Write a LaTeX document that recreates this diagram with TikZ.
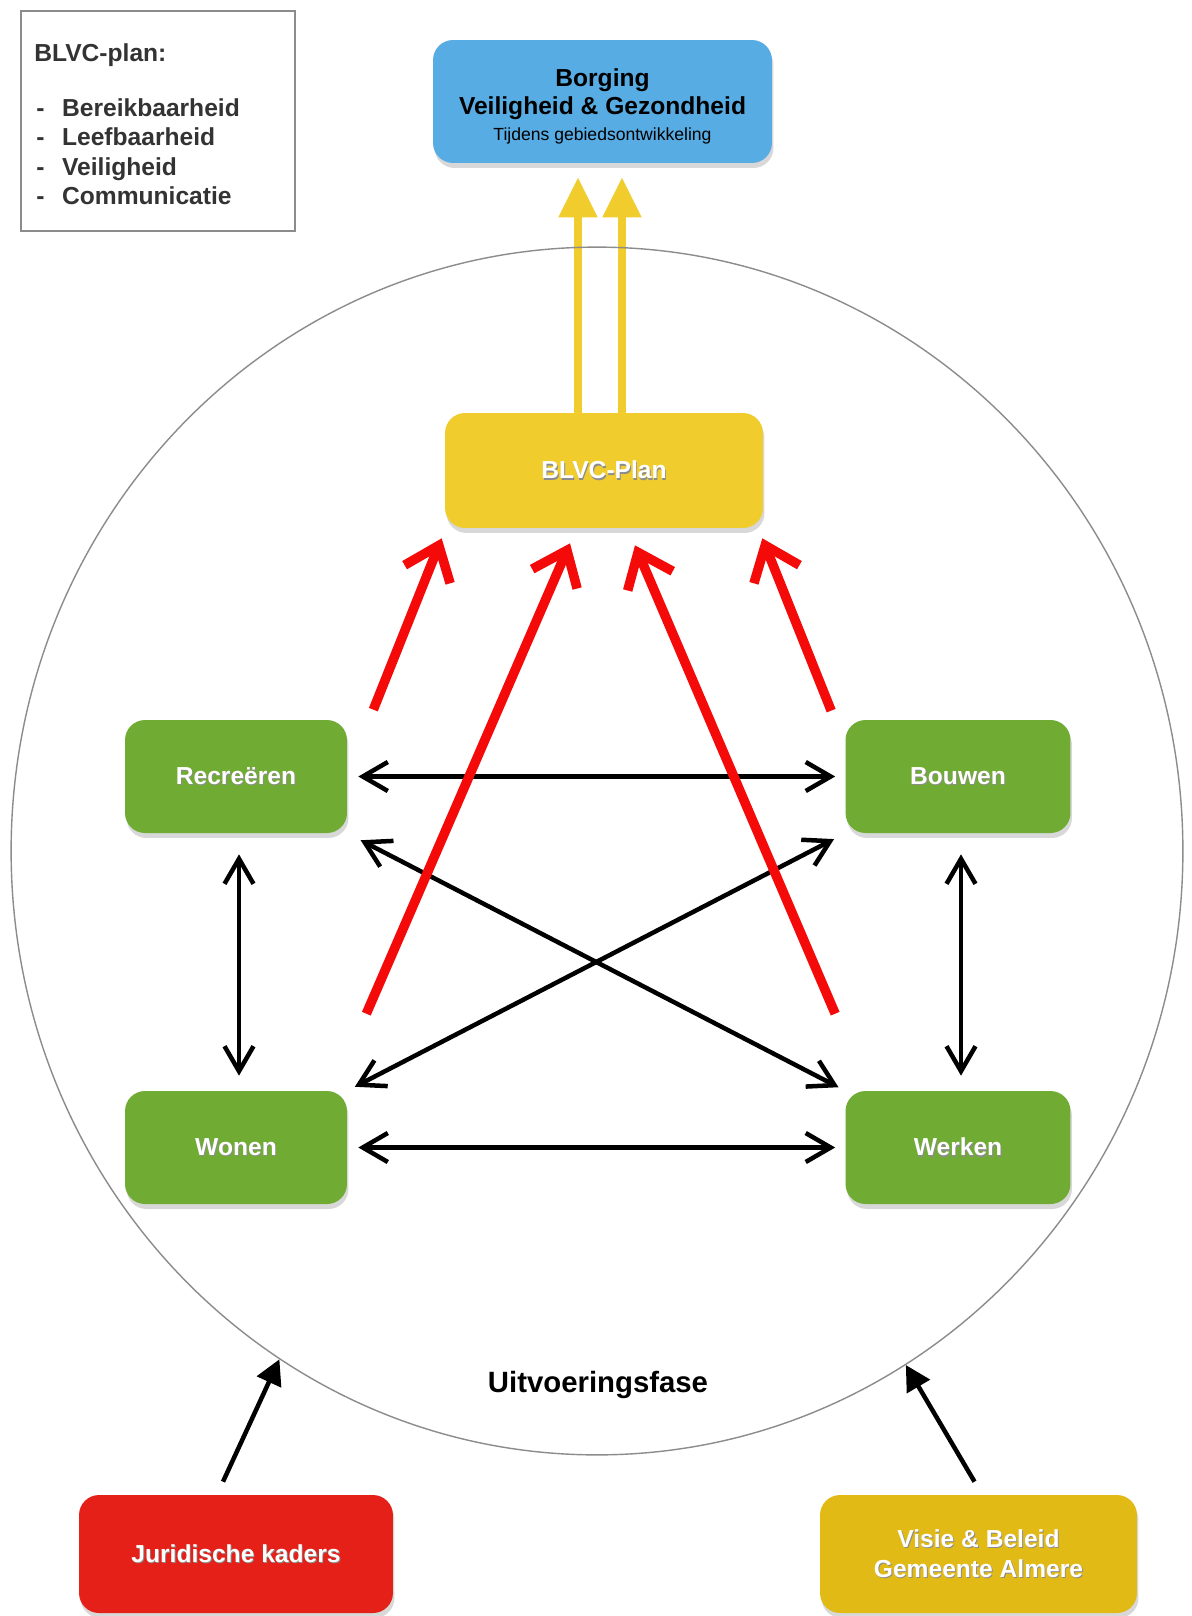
\documentclass[tikz,border=0pt]{standalone}
\usepackage{fontspec}
\setmainfont{Liberation Sans}
\usetikzlibrary{arrows.meta,shapes.geometric,shadows,calc}
\definecolor{boxblue}{RGB}{88,172,228}
\definecolor{planyellow}{RGB}{240,205,45}
\definecolor{boxgreen}{RGB}{112,172,52}
\definecolor{jurred}{RGB}{228,32,24}
\definecolor{visieyellow}{RGB}{226,186,22}
\definecolor{arrred}{RGB}{245,10,10}
\definecolor{arryellow}{RGB}{240,205,45}
\newcommand\shtxt[1]{\leavevmode\rlap{\raisebox{-0.8pt}{\hspace{0.5pt}\textcolor{black!45}{#1}}}#1}
\pgfdeclarelayer{back}
\pgfdeclarelayer{arrlayer}
\pgfsetlayers{back,arrlayer,main}
\begin{document}
\begin{tikzpicture}[x=0.02cm,y=-0.02cm,
  box/.style={rounded corners=0.4cm, inner sep=0pt, align=center,
    font=\bfseries\fontsize{14}{17}\selectfont,
    drop shadow={opacity=0.3,shadow xshift=0.03cm,shadow yshift=-0.1cm}},
  gbox/.style={box, fill=boxgreen, text=white, minimum width=4.44cm, minimum height=2.26cm},
  blk/.style={line width=0.09cm,
    {Straight Barb[length=0.5cm,width=0.58cm]}-{Straight Barb[length=0.5cm,width=0.58cm]}},
  redarr/.style={draw=arrred, line width=0.19cm, -{Straight Barb[length=0.62cm,width=0.98cm]}},
  yarr/.style={draw=arryellow, line width=0.16cm, -{Triangle[length=0.8cm,width=0.74cm]}},
  inarr/.style={line width=0.09cm, -{Triangle[length=0.5cm,width=0.52cm]}},
]
\useasboundingbox (0,0) rectangle (1192,1616);
\begin{pgfonlayer}{back}
\fill[white] (0,0) rectangle (1192,1616);
\end{pgfonlayer}

% legend
\node[draw=black!45, line width=1pt, minimum width=5.48cm, minimum height=4.4cm, inner sep=0pt] (legend) at (158,121) {};
\node[anchor=west, inner sep=0pt, text=black!80, font=\bfseries\fontsize{14}{17}\selectfont] (legtitle) at (34,55) {BLVC-plan:};
\node[anchor=north west, inner sep=0pt, text=black!80, font=\bfseries\fontsize{14}{16.8}\selectfont] (legitems) at (36,95)
  {\begin{tabular}{@{}l@{\hspace{10pt}}l@{}}- & Bereikbaarheid\\- & Leefbaarheid\\- & Veiligheid\\- & Communicatie\end{tabular}};

% outer phase
\node[draw=black!45, line width=0.8pt, ellipse, minimum width=23.44cm, minimum height=24.16cm, inner sep=0pt] (phase) at (597,851) {};
\node[font=\bfseries\fontsize{16.7}{20}\selectfont] (fase) at (598,1385) {Uitvoeringsfase};

% boxes
\node[box, fill=boxblue, text=black, minimum width=6.78cm, minimum height=2.46cm] (blue) at (602.5,101.5)
  {\rule{0pt}{15.5pt}Borging\\[-1pt]Veiligheid \& Gezondheid\\[-2.5pt]{\mdseries\fontsize{10}{11}\selectfont Tijdens gebiedsontwikkeling}};
\node[box, fill=planyellow, text=white, minimum width=6.36cm, minimum height=2.3cm] (plan) at (604,470.5) {\shtxt{BLVC-Plan}};
\node[gbox] (rec) at (236,776.5) {\shtxt{Recreëren}};
\node[gbox, minimum width=4.5cm] (bou) at (958,776.5) {\shtxt{Bouwen}};
\node[gbox] (won) at (236,1147.5) {\shtxt{Wonen}};
\node[gbox, minimum width=4.5cm] (wer) at (958,1147.5) {\shtxt{Werken}};
\node[box, fill=jurred, text=white, minimum width=6.28cm, minimum height=2.36cm] (jur) at (236,1554) {\shtxt{Juridische kaders}};
\node[box, fill=visieyellow, text=white, minimum width=6.34cm, minimum height=2.36cm] (vis) at (978.5,1554) {\shtxt{Visie \& Beleid}\\\shtxt{Gemeente Almere}};

\begin{pgfonlayer}{arrlayer}
% yellow arrows
\coordinate (y1s) at ([xshift=-0.52cm]plan.north);
\coordinate (y2s) at ([xshift=0.36cm]plan.north);
\coordinate (ytip) at ([yshift=-0.28cm]blue.south);
\draw[yarr] (y1s) -- (y1s |- ytip);
\draw[yarr] (y2s) -- (y2s |- ytip);

% black connectors
\draw[blk, shorten <=0.22cm, shorten >=0.2cm] (rec.east) -- (bou.west);
\draw[blk, shorten <=0.22cm, shorten >=0.2cm] (won.east) -- (wer.west);
\draw[blk, shorten <=0.42cm, shorten >=0.3cm] ([xshift=0.06cm]rec.south) -- ([xshift=0.06cm]won.north);
\draw[blk, shorten <=0.42cm, shorten >=0.3cm] ([xshift=0.06cm]bou.south) -- ([xshift=0.06cm]wer.north);
\draw[blk, shorten <=0.3cm, shorten >=0.15cm] (rec.south east) -- (wer.north west);
\draw[blk, shorten <=0.17cm, shorten >=0.25cm] (won.north east) -- (bou.south west);

% red arrows
\draw[redarr] ([shift={(26,-10)}]rec.north east) -- ([shift={(-3,10)}]plan.south west);
\draw[redarr] ([shift={(19,-77)}]won.north east) -- ([shift={(-34,15)}]plan.south);
\draw[redarr] ([shift={(-10,-77)}]wer.north west) -- ([shift={(31,17)}]plan.south);
\draw[redarr] ([shift={(-14,-9)}]bou.north west) -- ([shift={(-1,10)}]plan.south east);

% inputs
\draw[inarr] ([shift={(-13,-13)}]jur.north) -- (phase.238.8);
\draw[inarr] ([shift={(-4,-13)}]vis.north) -- (phase.301.2);
\end{pgfonlayer}
\end{tikzpicture}
\end{document}
